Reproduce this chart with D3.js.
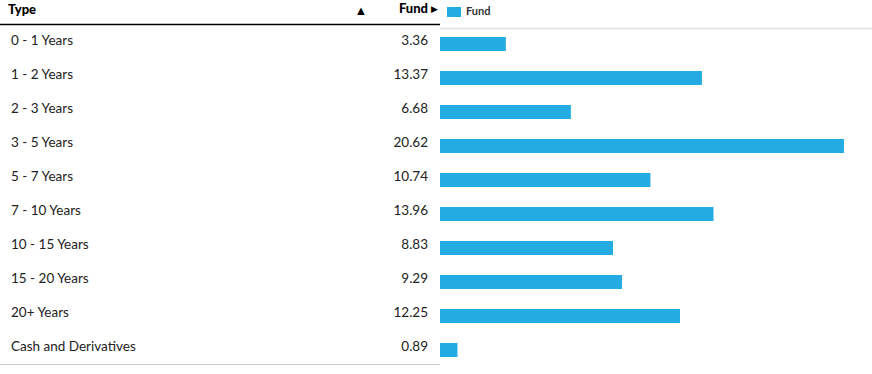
<!DOCTYPE html>
<html>
<head>
<meta charset="utf-8">
<script src="https://cdn.jsdelivr.net/npm/d3@7"></script>
<style>
  body { margin: 0; background: #fff; }
  svg text { font-family: Lato, "Noto Sans", sans-serif; }
</style>
</head>
<body>
<div class="chart"></div>
<script>
var categories = ["0 - 1 Years", "1 - 2 Years", "2 - 3 Years", "3 - 5 Years", "5 - 7 Years",
    "7 - 10 Years", "10 - 15 Years", "15 - 20 Years", "20+ Years", "Cash and Derivatives"];
var fundValues = [3.36, 13.37, 6.68, 20.62, 10.74, 13.96, 8.83, 9.29, 12.25, 0.89];
var seriesName = "Fund";

var width = 872, height = 374;
var tableRight = 440;
var rowTop = 24, rowHeight = 34;

var svg = d3.select(".chart")
            .append("svg")
            .attr("width", width)
            .attr("height", height);

var y = d3.scaleBand()
    .domain(categories)
    .range([rowTop, rowTop + rowHeight * categories.length]);

var x = d3.scaleLinear()
    .domain([0, 22])
    .range([tableRight, 871]);

// header
svg.append("text")
    .attr("x", 8).attr("y", 11)
    .attr("dominant-baseline", "middle")
    .attr("font-size", 13).attr("font-weight", 900)
    .attr("fill", "#000")
    .text("Type");
svg.append("text")
    .attr("x", 361).attr("y", 12)
    .attr("text-anchor", "middle")
    .attr("dominant-baseline", "middle")
    .attr("font-size", 13)
    .attr("fill", "#000")
    .text("▲");
svg.append("text")
    .attr("x", 428).attr("y", 10)
    .attr("text-anchor", "end")
    .attr("dominant-baseline", "middle")
    .attr("font-size", 13).attr("font-weight", 900)
    .attr("fill", "#000")
    .text(seriesName);
svg.append("text")
    .attr("x", 438).attr("y", 10)
    .attr("text-anchor", "end")
    .attr("dominant-baseline", "middle")
    .attr("font-size", 9)
    .attr("fill", "#000")
    .text("▶");
svg.append("line")
    .attr("x1", 0).attr("x2", tableRight)
    .attr("y1", 24.5).attr("y2", 24.5)
    .attr("stroke", "#000").attr("stroke-width", 1.5);

// legend
svg.append("rect")
    .attr("x", 447).attr("y", 7)
    .attr("width", 14).attr("height", 10)
    .attr("fill", "#23abe2");
svg.append("text")
    .attr("x", 466).attr("y", 12.5)
    .attr("dominant-baseline", "middle")
    .attr("font-size", 11).attr("font-weight", "bold")
    .attr("fill", "#333")
    .text(seriesName);
svg.append("line")
    .attr("x1", tableRight).attr("x2", width)
    .attr("y1", 28.5).attr("y2", 28.5)
    .attr("stroke", "#e0e0e0").attr("stroke-width", 1.5);

// rows
var rows = svg.selectAll("g.row")
    .data(categories)
    .enter().append("g")
    .attr("class", "row");

rows.append("text")
    .attr("x", 11)
    .attr("y", function(d) { return y(d) + 17.5; })
    .attr("dominant-baseline", "middle")
    .attr("font-size", 13.5)
    .attr("fill", "#222")
    .text(function(d) { return d; });

rows.append("text")
    .attr("x", 428)
    .attr("y", function(d) { return y(d) + 17.5; })
    .attr("text-anchor", "end")
    .attr("dominant-baseline", "middle")
    .attr("font-size", 13.5)
    .attr("fill", "#222")
    .text(function(d, i) { return fundValues[i].toFixed(2); });

rows.append("rect")
    .attr("x", x(0))
    .attr("y", function(d) { return y(d) + 13; })
    .attr("width", function(d, i) { return x(fundValues[i]) - x(0); })
    .attr("height", 14)
    .attr("fill", "#23abe2");

svg.append("line")
    .attr("x1", 0).attr("x2", tableRight)
    .attr("y1", 364.5).attr("y2", 364.5)
    .attr("stroke", "#ccc").attr("stroke-width", 1);
</script>
</body>
</html>
